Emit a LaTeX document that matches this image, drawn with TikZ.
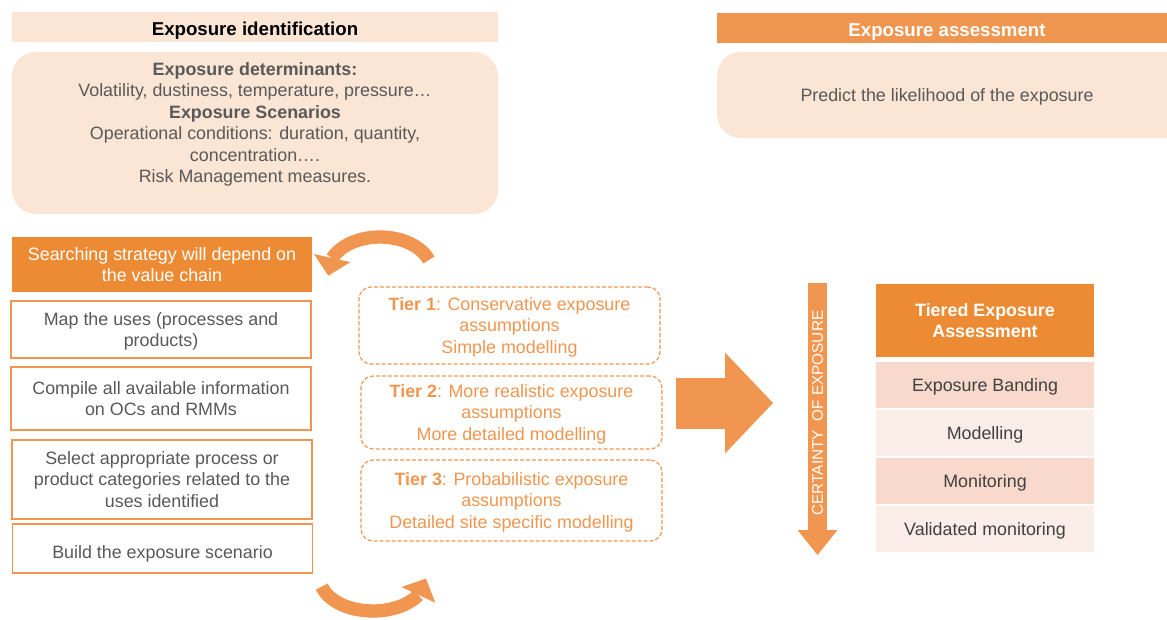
\documentclass[tikz,border=0pt]{standalone}
\usepackage{fontspec}
\setmainfont{Liberation Sans}
\usepackage{tikz}
\definecolor{naranja}{RGB}{237,139,52}
\definecolor{naranjaClaro}{RGB}{240,150,80}
\definecolor{crema}{RGB}{251,230,213}
\definecolor{salmon}{RGB}{248,217,203}
\definecolor{salmonClaro}{RGB}{251,237,232}
\definecolor{grisTexto}{RGB}{89,89,89}
\definecolor{grisOscuro}{RGB}{64,64,64}
\usetikzlibrary{arrows.meta,bending,positioning}
\newcommand{\cuerpo}{\fontsize{13.4}{16.1}\selectfont}
\newcommand{\titulo}{\fontsize{14}{17}\selectfont\bfseries}
\newcommand{\puntal}{\rule[-0.212em]{0pt}{1.312em}}
\newcommand{\puntalFila}{\rule[-0.212em]{0pt}{1.117em}}
\tikzstyle{texto}   =[execute at begin node=\puntal,
                    execute at end node=\puntal]
\tikzstyle{textoFila}=[execute at begin node=\puntalFila,
                    execute at end node=\puntalFila]
\tikzstyle{header}  =[texto, minimum height=22.5pt, inner sep=0pt,
                    outer sep=0pt, font=\titulo]
\tikzstyle{softbox} =[fill=crema, rounded corners=18pt,
                    inner sep=0pt, outer sep=0pt]
\tikzstyle{stepbox} =[text depth=0pt, draw=naranjaClaro, line width=1.1pt, fill=white,
                    text=grisTexto, align=center, font=\cuerpo,
                    minimum width=225pt, inner sep=0pt]
\tikzstyle{tierbox} =[text depth=0pt, draw=naranjaClaro, dash pattern=on 3pt off 1.5pt,
                    line width=0.9pt, rounded corners=9pt,
                    text=naranjaClaro, align=center, font=\cuerpo,
                    minimum width=225.75pt, inner sep=0pt]
\tikzstyle{rowbox}  =[textoFila, minimum width=163.5pt, minimum height=34.5pt,
                    inner sep=0pt, outer sep=0pt,
                    text=grisOscuro, font=\cuerpo]
\tikzstyle{bigarrow}=[draw=naranjaClaro, line width=38.25pt,
                    -{Triangle[length=36pt, width=75.75pt, line width=0pt]}]
\tikzstyle{certarrow}=[draw=naranjaClaro, line width=14.25pt,
                    -{Triangle[length=18.75pt, width=30pt, line width=0pt]}]
\tikzstyle{cycarrow}=[draw=naranjaClaro, line width=10pt,
                    -{Triangle[length=13.5pt, width=28pt, line width=0pt]}]

\begin{document}
\begin{tikzpicture}[x=0.75pt,y=0.75pt]
    \useasboundingbox (0,0) rectangle (1167,-619);

        % exposure identification
        \draw (255,-27) node (idHead) [header, fill=crema, minimum width=364.5pt] {Exposure identification};
        \draw (255,-133) node (idBody) [softbox, minimum width=364.5pt, minimum height=121.5pt] {};
        \draw (255,-122.5) node (idText) [text depth=0pt, align=center, text=grisTexto, font=\cuerpo]
            {\textbf{Exposure determinants:}\\Volatility, dustiness, temperature, pressure…\\
             \textbf{Exposure Scenarios}\\Operational conditions: duration, quantity,\\
             concentration….\\Risk Management measures.};

        % exposure assessment
        \draw (947,-28) node (asHead) [header, fill=naranjaClaro, text=white, minimum width=345pt] {Exposure assessment};
        \draw (956,-95) node (asBody) [softbox, minimum width=358.5pt, minimum height=64.5pt] {};
        \draw (947,-95) node (asText) [textoFila, text=grisTexto, font=\cuerpo] {Predict the likelihood of the exposure};

        % searching strategy
        \draw (162,-264.5) node (search) [stepbox, fill=naranja, draw=naranja, text=white, minimum width=223.5pt, minimum height=39.75pt]
            {Searching strategy will depend on\\the value chain};
        \draw (161,-329.5) node (mapUses) [stepbox, minimum height=42.75pt] {Map the uses (processes and\\products)};
        \draw (161,-398.5) node (compile) [stepbox, minimum height=47.25pt] {Compile all available information\\on OCs and RMMs};
        \draw (162,-479.5) node (select) [stepbox, minimum height=59.25pt]
            {Select appropriate process or\\product categories related to the\\uses identified};
        \draw (162.5,-548.5) node (build) [stepbox, texto, minimum height=36.75pt] {Build the exposure scenario};

        % tiers
        \draw (509.5,-325.5) node (tier1) [tierbox, minimum height=57.75pt]
            {\textbf{Tier 1}: Conservative exposure\\assumptions\\Simple modelling};
        \draw (511.5,-412.5) node (tier2) [tierbox, minimum height=54.75pt]
            {\textbf{Tier 2}: More realistic exposure\\assumptions\\More detailed modelling};
        \draw (511.5,-500.5) node (tier3) [tierbox, minimum height=60.75pt]
            {\textbf{Tier 3}: Probabilistic exposure\\assumptions\\Detailed site specific modelling};

        % cycle arrows
        \coordinate (cycTop) at (380,-272);
        \coordinate (cycBot) at (373,-578);
        \draw [cycarrow] (cycTop) ++(20:52 and 35) arc [start angle=20, end angle=186, x radius=52, y radius=35];
        \draw [cycarrow] (cycBot) ++(195:53 and 33) arc [start angle=195, end angle=359, x radius=53, y radius=33];

        % big arrow and certainty arrow
        \coordinate (bigTail) at (676,-403);
        \coordinate (bigTip) at (773,-403);
        \draw [bigarrow] (bigTail) -- (bigTip);
        \coordinate (certTop) at (817.5,-283);
        \coordinate (certTip) at (817.5,-555);
        \draw [certarrow] (certTop) -- (certTip);
        \draw (817.5,-413) node (certText) [rotate=90, text=white, font=\fontsize{11.5}{14}\selectfont] {CERTAINTY\ \ OF EXPOSURE};

        % tiered exposure assessment
        \draw (985,-320.5) node (tierHead) [text depth=0pt, fill=naranja, text=white, align=center, inner sep=0pt, outer sep=0pt,
            minimum width=163.5pt, minimum height=54.75pt, font=\fontsize{13.4}{16.1}\selectfont\bfseries]
            {Tiered Exposure\\Assessment};
        \node (rowBand) [rowbox, fill=salmon, below=3.75pt of tierHead] {Exposure Banding};
        \node (rowModel) [rowbox, fill=salmonClaro, below=1.5pt of rowBand] {Modelling};
        \node (rowMonit) [rowbox, fill=salmon, below=1.5pt of rowModel] {Monitoring};
        \node (rowValid) [rowbox, fill=salmonClaro, below=1.5pt of rowMonit] {Validated monitoring};

    \end{tikzpicture}
\end{document}
